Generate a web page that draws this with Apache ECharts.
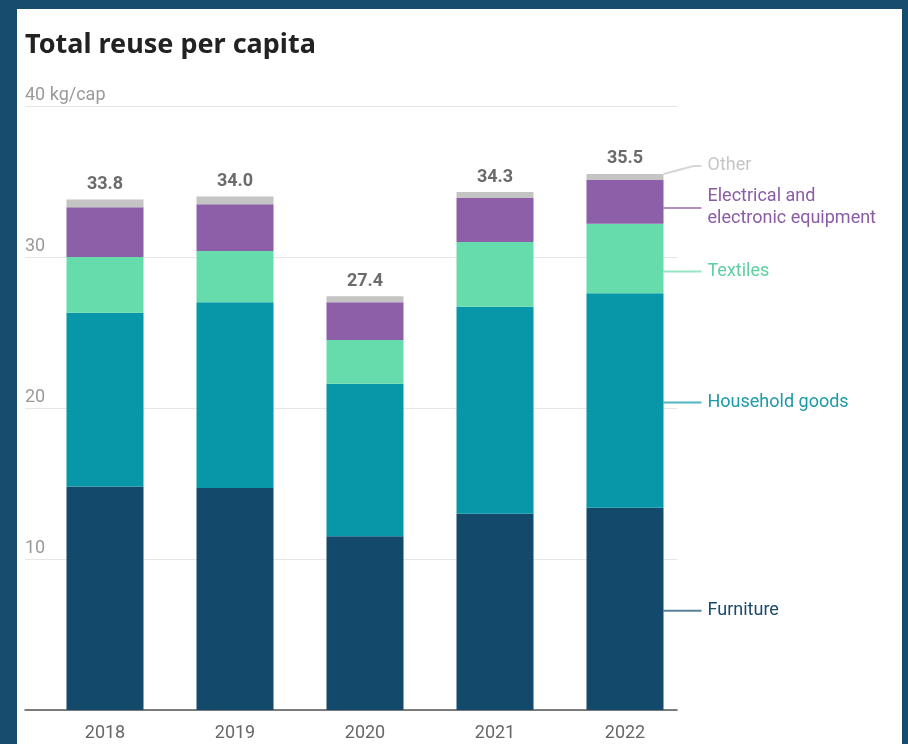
<!DOCTYPE html>
<html>
<head>
<meta charset="utf-8">
<script src="https://cdn.jsdelivr.net/npm/echarts@6/dist/echarts.min.js"></script>
<style>
  html, body { margin: 0; padding: 0; width: 908px; height: 744px; overflow: hidden; background: #184c6e; }
  #panel { position: absolute; left: 17px; top: 9px; width: 885px; height: 735px; background: #ffffff; }
</style>
</head>
<body>
<div id="panel"></div>
<script>
// Reuse per capita (kg/cap) by product group, stacked per year
const years = ['2018', '2019', '2020', '2021', '2022'];
const furniture = [14.8, 14.7, 11.5, 13.0, 13.4];
const householdGoods = [11.5, 12.3, 10.1, 13.7, 14.2];
const textiles = [3.7, 3.4, 2.9, 4.3, 4.6];
const electrical = [3.3, 3.1, 2.5, 2.9, 2.9];
const other = [0.5, 0.5, 0.4, 0.4, 0.4];
const totals = [33.8, 34.0, 27.4, 34.3, 35.5];
const yTickLabels = ['', '10', '20', '30', '40 kg/cap'];

const groups = [
  { name: 'Furniture', data: furniture, color: '#134a6b', text: '#1a4a6a', dy: 2 },
  { name: 'Household goods', data: householdGoods, color: '#0797a8', text: '#1b9aa8', dy: 2 },
  { name: 'Textiles', data: textiles, color: '#66dbab', text: '#5fcfa2', dy: 13 },
  { name: 'Electrical and\nelectronic equipment', data: electrical, color: '#8d5fa8', text: '#8a5ca6', dy: 6 },
  { name: 'Other', data: other, color: '#c4c4c4', text: '#c6c6c6', dy: -11 }
];

const FONT = 'Roboto, "Noto Sans", sans-serif';
const chart = echarts.init(document.getElementById('panel'), null, { renderer: 'canvas' });
const last = years.length - 1;

const stackSeries = groups.map(g => ({
  type: 'bar',
  name: g.name.replace('\n', ' '),
  stack: 'total',
  xAxisIndex: 1,
  yAxisIndex: 1,
  barWidth: 77,
  barGap: '-100%',
  itemStyle: { color: g.color },
  emphasis: { disabled: true },
  label: { show: false },
  labelLayout: { dy: g.dy },
  data: g.data.map((v, i) => i === last ? {
    value: v,
    label: {
      show: true,
      position: 'right',
      distance: 38,
      padding: [0, 0, 0, 6],
      formatter: g.name,
      color: g.text,
      fontFamily: FONT,
      fontSize: 18,
      lineHeight: 22
    },
    labelLine: {
      show: true,
      length2: 8,
      lineStyle: { color: g.color, width: 2, opacity: 0.7 }
    }
  } : v)
}));

const totalSeries = {
  type: 'bar',
  name: 'Total',
  xAxisIndex: 1,
  yAxisIndex: 1,
  barWidth: 77,
  barGap: '-100%',
  silent: true,
  itemStyle: { color: 'rgba(0,0,0,0)' },
  emphasis: { disabled: true },
  label: {
    show: true,
    position: 'top',
    distance: 6,
    formatter: p => totals[p.dataIndex].toFixed(1),
    color: '#6b6b6b',
    fontFamily: FONT,
    fontWeight: 'bold',
    fontSize: 18
  },
  data: totals
};

chart.setOption({
  animation: false,
  title: {
    text: 'Total reuse per capita',
    left: 8,
    top: 23,
    padding: 0,
    textStyle: { fontFamily: '"Noto Sans", sans-serif', fontWeight: 'bold', fontSize: 27, color: '#222222' }
  },
  grid: [
    { left: 8, top: 97, width: 652, height: 604 },
    { left: 23, top: 97, width: 650, height: 604 }
  ],
  xAxis: [
    {
      type: 'category', gridIndex: 0, data: years,
      axisLine: { show: true, lineStyle: { color: '#555555', width: 1.5 } },
      axisTick: { show: false }, axisLabel: { show: false }, splitLine: { show: false }
    },
    {
      type: 'category', gridIndex: 1, data: years,
      axisLine: { show: false }, axisTick: { show: false },
      axisLabel: { color: '#666666', fontFamily: FONT, fontSize: 18, margin: 14 }
    }
  ],
  yAxis: [
    {
      type: 'value', gridIndex: 0, min: 0, max: 40, interval: 10,
      axisLine: { show: false }, axisTick: { show: false },
      splitLine: { lineStyle: { color: '#e6e6e6', width: 1 } },
      axisLabel: {
        inside: true, margin: 0, hideOverlap: false,
        verticalAlign: 'bottom', lineHeight: 22,
        color: '#9a9a9a', fontFamily: FONT, fontSize: 18,
        formatter: (v) => yTickLabels[Math.round(v / 10)]
      }
    },
    {
      type: 'value', gridIndex: 1, min: 0, max: 40, interval: 10,
      show: false, splitLine: { show: false }
    }
  ],
  series: stackSeries.concat([totalSeries])
});
</script>
</body>
</html>
